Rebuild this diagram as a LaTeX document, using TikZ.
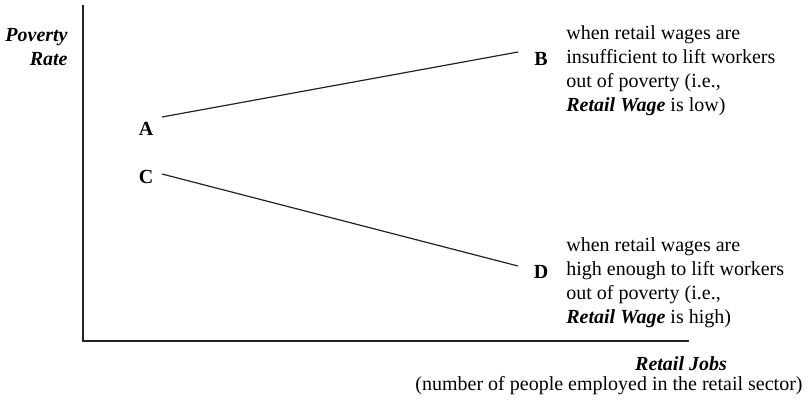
\documentclass[tikz,border=0pt]{standalone}
\usepackage{fontspec}
\setmainfont{Liberation Serif}
\usepackage{tikz}
\usetikzlibrary{positioning}
\definecolor{axisink}{RGB}{35,35,35}
\tikzset{
  axis/.style={draw=axisink, line width=0.75pt},
  trend/.style={draw=axisink, line width=0.6pt},
  pt/.style={font=\fontsize{10}{12}\selectfont\bfseries, inner sep=0pt},
  note/.style={font=\fontsize{10}{12}\selectfont, align=left, inner sep=0pt, anchor=west},
  axlabel/.style={font=\fontsize{10}{12}\selectfont\bfseries\itshape, inner sep=0pt},
  every picture/.append style={line cap=butt}
}
\begin{document}
\begin{tikzpicture}[x=0.5pt,y=-0.5pt]
  \useasboundingbox (0,0) rectangle (811,404);
  % axes, pixel grid with y going down
  \coordinate (ytop) at (83,5);
  \coordinate (origin) at (83,341);
  \coordinate (xend) at (689,341);
  \draw[axis] (ytop) -- (origin) -- (xend);
  \node[axlabel, align=right, anchor=east] (ylab) at (68,47) {Poverty\\Rate};
  \node[axlabel, anchor=base] (xlab) at (681,370) {Retail Jobs};
  \node[font=\fontsize{10}{12}\selectfont, inner sep=0pt, anchor=base] (xnote) at (609,390)
    {(number of people employed in the retail sector)};
  % points
  \node[pt] (A) at (146,129) {A};
  \node[pt] (B) at (541,59) {B};
  \node[pt] (C) at (146,177) {C};
  \node[pt] (D) at (541,272) {D};
  \coordinate (A-out) at (162,117);
  \coordinate (B-in) at (518,52);
  \coordinate (C-out) at (162,174);
  \coordinate (D-in) at (518,266);
  \draw[trend] (A-out) -- (B-in);
  \draw[trend] (C-out) -- (D-in);
  % notes beside B and D
  \node[note] (Bnote) at (566,71)
    {when retail wages are\\insufficient to lift workers\\out of poverty (i.e.,\\\textbf{\textit{Retail Wage}} is low)};
  \node[note] (Dnote) at (566,283)
    {when retail wages are\\high enough to lift workers\\out of poverty (i.e.,\\\textbf{\textit{Retail Wage}} is high)};
\end{tikzpicture}
\end{document}
